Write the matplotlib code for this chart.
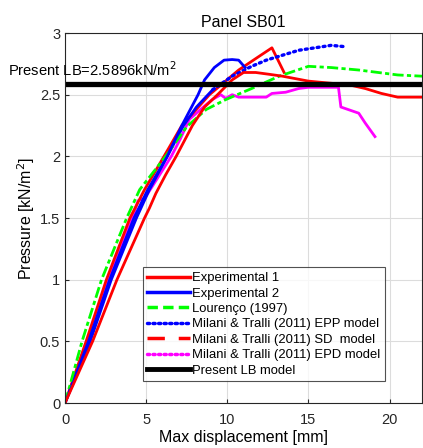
import numpy as np
import matplotlib.pyplot as plt
from matplotlib.lines import Line2D

plt.rcParams['font.family'] = ['Liberation Sans', 'DejaVu Sans']

# Pressure - displacement curves, panel SB01
exp1_x = [0, 1.7, 3.2, 4.9, 5.2, 5.6, 6.2, 6.85, 7.85, 8.6, 9.4, 10.3, 11.0, 11.75, 12.6, 13.4, 15.0, 16.2, 17.5, 18.5, 19.5, 20.5, 22]
exp1_y = [0, 0.5, 1.0, 1.5, 1.58, 1.70, 1.85, 2.0, 2.25, 2.40, 2.50, 2.62, 2.68, 2.68, 2.665, 2.65, 2.61, 2.595, 2.58, 2.55, 2.51, 2.48, 2.48]

exp2_x = [0, 1.55, 2.85, 4.4, 5.2, 6.3, 7.2, 8.2, 8.6, 9.2, 9.8, 10.3, 10.7, 11.1]
exp2_y = [0, 0.5, 1.0, 1.5, 1.73, 2.0, 2.25, 2.50, 2.62, 2.72, 2.78, 2.785, 2.78, 2.72]

lour_x = [0, 1.05, 2.25, 3.8, 4.6, 6.2, 7.5, 8.7, 9.9, 11.5, 13.2, 15.0, 16.4, 18.1, 20.5, 22]
lour_y = [0, 0.5, 1.0, 1.5, 1.73, 2.0, 2.24, 2.38, 2.46, 2.55, 2.65, 2.73, 2.72, 2.70, 2.66, 2.65]

epp_x = [0, 1.45, 2.75, 4.25, 5.1, 6.3, 7.3, 8.1, 9.1, 10.3, 11.5, 12.4, 13.4, 14.4, 15.4, 16.4, 17.2]
epp_y = [0, 0.5, 1.0, 1.5, 1.73, 2.0, 2.25, 2.40, 2.54, 2.65, 2.73, 2.78, 2.82, 2.86, 2.88, 2.90, 2.89]

sd_x = [0, 1.3, 2.55, 4.0, 4.9, 6.1, 7.2, 8.9, 10.7, 11.95, 12.75, 13.5]
sd_y = [0, 0.5, 1.0, 1.5, 1.73, 2.0, 2.25, 2.50, 2.70, 2.81, 2.88, 2.68]

epd_x = [0, 1.4, 2.7, 4.15, 4.5, 4.9, 5.3, 6.55, 7.1, 7.66, 8.7, 9.07, 9.6, 9.9, 10.3, 10.7, 11.5, 12.4, 12.75, 13.6, 14.4, 15.0, 16.4, 16.85, 17.0, 18.1, 18.5, 19.1]
epd_y = [0, 0.5, 1.0, 1.5, 1.64, 1.66, 1.74, 2.0, 2.14, 2.30, 2.42, 2.46, 2.50, 2.47, 2.50, 2.48, 2.48, 2.48, 2.51, 2.52, 2.55, 2.56, 2.56, 2.56, 2.40, 2.35, 2.27, 2.16]

lb_value = 2.5896

labels = ['Experimental 1', 'Experimental 2', 'Lourenço (1997)',
          'Milani & Tralli (2011) EPP model', 'Milani & Tralli (2011) SD  model',
          'Milani & Tralli (2011) EPD model', 'Present LB model']

fig = plt.figure(figsize=(4.23, 4.48), dpi=100)
ax = fig.add_axes([0.1537, 0.1004, 0.844, 0.8259])

lw = 2.0
ax.plot(epd_x, epd_y, color=(1, 0, 1), lw=lw)
ax.plot(sd_x, sd_y, color=(1, 0, 0), lw=lw)
# EPP: dense part looks continuous, the sparse tail shows the dots
k = epp_x.index(9.1)
ax.plot(epp_x[:k + 1], epp_y[:k + 1], color=(0, 0, 1), lw=lw)
ax.plot(epp_x[k:], epp_y[k:], color=(0, 0, 1), lw=2.4, ls=(0, (0.6, 1.2)), dash_capstyle='round')
ax.plot(lour_x, lour_y, color=(0, 1, 0), lw=lw, dashes=[4, 1.2, 1.5, 1.2])
ax.plot(exp2_x, exp2_y, color=(0, 0, 1), lw=lw)
ax.plot(exp1_x, exp1_y, color=(1, 0, 0), lw=lw)
ax.axhline(lb_value, color='k', lw=3.8)

ax.text(-3.5, lb_value + 0.11, 'Present LB=%.4fkN/m$^2$' % lb_value, fontsize=10.6,
        ha='left', va='center', clip_on=False)

ax.set_xlim(0, 22)
ax.set_ylim(0, 3)
ax.set_xticks([0, 5, 10, 15, 20])
ax.set_yticks([0, 0.5, 1, 1.5, 2, 2.5, 3])
ax.set_yticklabels(['0', '0.5', '1', '1.5', '2', '2.5', '3'])
ax.tick_params(direction='in', labelsize=10.5, length=3, color='#262626', labelcolor='#262626')
ax.tick_params(axis='x', pad=7)
ax.grid(True, color='#dcdcdc', lw=0.8)
ax.set_axisbelow(True)
for s in ax.spines.values():
    s.set_color('#262626')
    s.set_linewidth(0.8)

ax.set_title('Panel SB01', fontsize=11.5, pad=4)
ax.set_xlabel('Max displacement [mm]', fontsize=11.5, labelpad=2)
ax.set_ylabel('Pressure [kN/m$^2$]', fontsize=11.5, labelpad=2)

handles = [
    Line2D([], [], color=(1, 0, 0), lw=2.5),
    Line2D([], [], color=(0, 0, 1), lw=2.5),
    Line2D([], [], color=(0, 1, 0), lw=2.5, dashes=[3, 1.5]),
    Line2D([], [], color=(0, 0, 1), lw=2.5, ls=(0, (0.6, 1.0)), dash_capstyle='round'),
    Line2D([], [], color=(1, 0, 0), lw=2.5, dashes=[5, 4]),
    Line2D([], [], color=(1, 0, 1), lw=2.5, ls=(0, (0.6, 1.0)), dash_capstyle='round'),
    Line2D([], [], color='k', lw=3.5),
]
leg = ax.legend(handles, labels, loc='lower left', bbox_to_anchor=(0.218, 0.059),
                fontsize=9.4, handlelength=3.3, handletextpad=0.15, labelspacing=0.25,
                borderpad=0.35, borderaxespad=0, frameon=True, fancybox=False)
leg.get_frame().set_edgecolor('#262626')
leg.get_frame().set_linewidth(0.8)

fig.savefig('out.png', dpi=100)
